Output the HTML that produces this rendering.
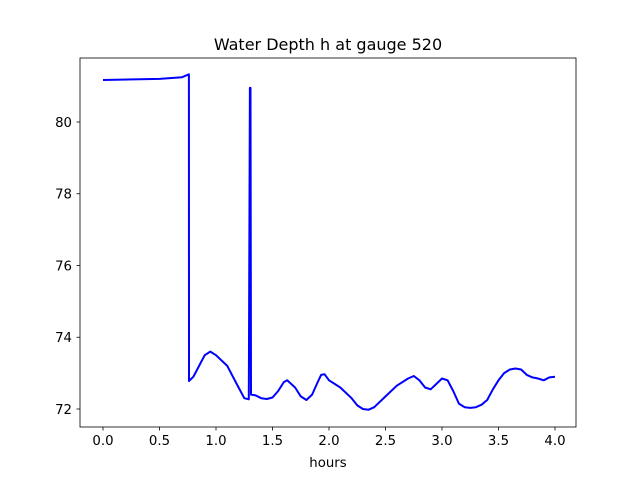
<!DOCTYPE html>
<html><head><meta charset="utf-8"><style>
body{margin:0;background:#fff;width:640px;height:480px;overflow:hidden}
text{font-family:"DejaVu Sans","Liberation Sans",sans-serif;font-size:13.3px;fill:#000}
</style></head><body>
<svg id="chart" width="640" height="480" xmlns="http://www.w3.org/2000/svg">
<rect width="640" height="480" fill="#fff"/>
<text x="328" y="50" text-anchor="middle" style="font-size:16px">Water Depth h at gauge 520</text>
<text x="328" y="467" text-anchor="middle">hours</text>
<g id="ticks"></g>
<path id="line" fill="none" stroke="#0000ff" stroke-width="2" stroke-linejoin="round"/>
<rect x="80" y="58" width="496" height="369" fill="none" stroke="#000" stroke-width="0.8"/>
</svg>
<script>
const hours=[0,0.5,0.7,0.76,0.761,0.8,0.85,0.9,0.95,1.0,1.05,1.1,1.15,1.2,1.25,1.29,1.3,1.305,1.31,1.35,1.4,1.45,1.5,1.55,1.6,1.63,1.7,1.75,1.8,1.85,1.9,1.93,1.96,2.0,2.1,2.2,2.25,2.3,2.35,2.4,2.5,2.6,2.7,2.75,2.8,2.85,2.9,2.95,3.0,3.05,3.1,3.15,3.2,3.25,3.3,3.35,3.4,3.45,3.5,3.55,3.6,3.65,3.7,3.75,3.8,3.85,3.9,3.95,4.0];
const depth=[81.17,81.2,81.25,81.33,72.78,72.9,73.2,73.5,73.6,73.5,73.35,73.2,72.9,72.6,72.3,72.27,80.95,80.95,72.4,72.38,72.3,72.28,72.32,72.5,72.75,72.8,72.6,72.35,72.25,72.4,72.75,72.95,72.97,72.8,72.6,72.3,72.1,72.0,71.98,72.05,72.35,72.65,72.85,72.92,72.8,72.6,72.55,72.7,72.85,72.8,72.5,72.15,72.05,72.03,72.05,72.12,72.25,72.55,72.8,73.0,73.1,73.13,73.1,72.95,72.88,72.85,72.8,72.88,72.9];
const xTicks=[0,0.5,1,1.5,2,2.5,3,3.5,4];
const xTickLabels=["0.0","0.5","1.0","1.5","2.0","2.5","3.0","3.5","4.0"];
const yTicks=[72,74,76,78,80];
const yTickLabels=["72","74","76","78","80"];
const X=v=>103+v*113;
const Y=v=>409-(v-72)*35.875;
const ns="http://www.w3.org/2000/svg";
const g=document.getElementById('ticks');
function mk(t,a){const e=document.createElementNS(ns,t);for(const k in a)e.setAttribute(k,a[k]);g.appendChild(e);return e;}
xTicks.forEach((v,i)=>{
 const l=mk('line',{x1:X(v),x2:X(v),y1:427,y2:430.5,stroke:'#000','stroke-width':0.8});
 
 
 const t=mk('text',{x:X(v),y:445,'text-anchor':'middle'});t.textContent=xTickLabels[i];
 
 
});
yTicks.forEach((v,i)=>{
 const l=mk('line',{x1:76.5,x2:80,y1:Y(v),y2:Y(v),stroke:'#000','stroke-width':0.8});
 
 
 const t=mk('text',{x:72,y:Y(v)+4.8,'text-anchor':'end'});t.textContent=yTickLabels[i];
 
 
});
document.getElementById('line').setAttribute('d',hours.map((h,i)=>(i?'L':'M')+X(h).toFixed(1)+','+Y(depth[i]).toFixed(1)).join(''));
</script>
</body></html>
